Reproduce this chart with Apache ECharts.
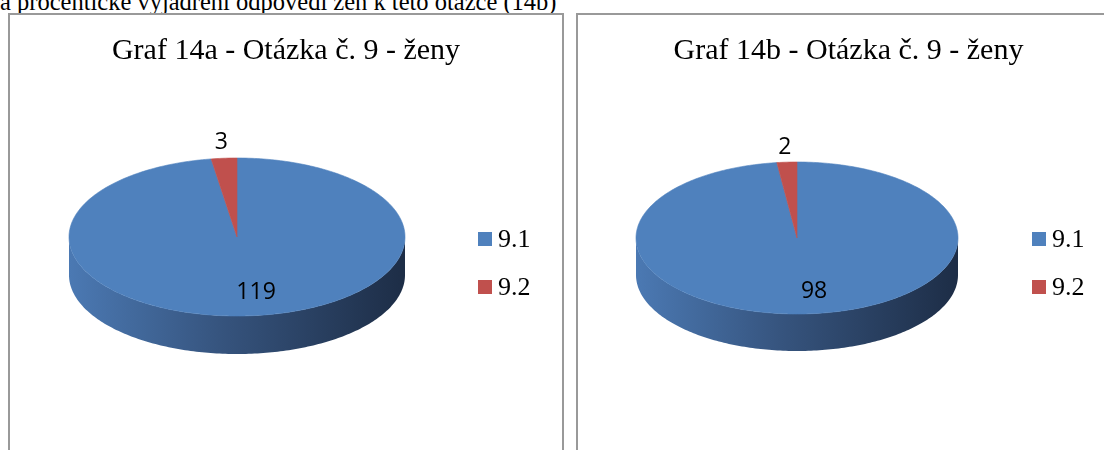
<!DOCTYPE html>
<html><head><meta charset="utf-8">
<script src="https://cdn.jsdelivr.net/npm/echarts@6/dist/echarts.min.js"></script>
<style>
html,body{margin:0;padding:0;background:#fff;width:1104px;height:450px;overflow:hidden;position:relative;}
#lead{position:absolute;left:0;top:-11px;font:24.5px/25px "Liberation Serif","Times New Roman",serif;white-space:nowrap;color:#000;}
.panel{position:absolute;top:13px;height:470px;background:#fff;border:2px solid #999;box-sizing:border-box;}
.panel .chart{position:absolute;left:0;top:0;width:100%;height:100%;}
.legend-label{position:absolute;font:26px/26px "Liberation Serif","Times New Roman",serif;color:#000;white-space:nowrap;}
#panelA{left:8px;width:556px;}
#panelB{left:576px;width:545px;}
</style></head><body>
<div id="lead">a procentické vyjádření odpovědí žen k této otázce (14b)</div>
<div id="panelA" class="panel"><div id="chartA" class="chart"></div></div>
<div id="panelB" class="panel"><div id="chartB" class="chart"></div></div>
<script>
// answer categories and counts for question 9 (women)
const categories = ['9.1', '9.2'];
const valuesA = [119, 3];
const valuesB = [98, 2];
const titleA = 'Graf 14a - Otázka č. 9 - ženy';
const titleB = 'Graf 14b - Otázka č. 9 - ženy';
const colors = ['#4F81BD', '#C0504D'];

const SERIF = 'Liberation Serif';
const SANS = 'Open Sans';
const RAD = Math.PI / 180;

// point on the tilted disc, angle clockwise from 12 o'clock
function pt(g, deg, dy, k) {
  k = k || 1;
  return [g.cx + g.rx * k * Math.sin(deg * RAD), g.cy - g.ry * k * Math.cos(deg * RAD) + (dy || 0)];
}
function arc(g, a0, a1, dy) {
  const pts = [];
  const n = Math.max(2, Math.ceil((a1 - a0) / 1));
  for (let i = 0; i <= n; i++) pts.push(pt(g, a0 + (a1 - a0) * i / n, dy));
  return pts;
}

function buildSlice(value, idx, a0, a1, frac, g, color) {
  const children = [];
  // visible side wall: front half of the disc (90..270 deg)
  const s = Math.max(a0, 90), e = Math.min(a1, 270);
  if (e > s) {
    const top = arc(g, s, e, 0);
    const bottom = arc(g, s, e, g.depth).reverse();
    const dark = color === colors[0]
      ? [{offset: 0, color: '#4b79b3'}, {offset: 0.45, color: '#36547e'}, {offset: 1, color: '#1d2d46'}]
      : [{offset: 0, color: '#a8433f'}, {offset: 1, color: '#5e2220'}];
    children.push({
      type: 'polygon', z2: 1,
      shape: {points: top.concat(bottom)},
      style: {fill: new echarts.graphic.LinearGradient(g.cx - g.rx, 0, g.cx + g.rx, 0, dark, true), stroke: null}
    });
  }
  // top face
  children.push({
    type: 'polygon', z2: 10,
    shape: {points: [[g.cx, g.cy]].concat(arc(g, a0, a1, 0))},
    style: {fill: color, stroke: color, lineWidth: 0.6}
  });
  // value label: inside for large slices, outside for thin ones
  const mid = (a0 + a1) / 2;
  const p = frac > 0.25 ? pt(g, mid, 0, g.inK) : pt(g, mid, 0, g.outK);
  children.push({
    type: 'text', z2: 20,
    style: {
      text: String(value), x: p[0] + (frac > 0.25 ? g.inDx : 0), y: p[1],
      align: 'center', verticalAlign: 'middle',
      textAlign: 'center', textVerticalAlign: 'middle',
      fontSize: 23, fontFamily: SANS, fontWeight: 'normal', fill: '#000'
    }
  });
  // legend swatch for this category
  const ly = g.legY + idx * g.legGap;
  children.push({
    type: 'rect', z2: 20,
    shape: {x: g.legX, y: ly - 7, width: 14, height: 14},
    style: {fill: color}
  });
  return {type: 'group', children};
}

function makeSeries(values, g) {
  const total = values.reduce((a, b) => a + b, 0);
  let acc = 0;
  return values.map((v, i) => {
    const a0 = acc / total * 360; acc += v; const a1 = acc / total * 360;
    return {
      type: 'custom', name: categories[i], coordinateSystem: 'none',
      silent: true, animation: false,
      itemStyle: {color: colors[i]},
      data: [[v]],
      renderItem: (params, api) => buildSlice(api.value(0), i, a0, a1, v / total, g, colors[i])
    };
  });
}

function makeOption(title, values, g) {
  return {
    animation: false,
    title: {
      text: title, left: 'center', top: 16,
      textStyle: {fontFamily: SERIF, fontSize: 30, fontWeight: 'normal', color: '#000'}
    },
    series: makeSeries(values, g)
  };
}

// legend captions next to the swatches, as page text
function addLegendLabels(panelId, g) {
  const panel = document.getElementById(panelId);
  categories.forEach((name, i) => {
    const el = document.createElement('div');
    el.className = 'legend-label';
    el.textContent = name;
    el.style.left = (g.legX + 20) + 'px';
    el.style.top = (g.legY + i * g.legGap - 13) + 'px';
    panel.appendChild(el);
  });
}

const geoA = {cx: 227, cy: 222, rx: 168, ry: 79, depth: 38, inK: 0.7, outK: 1.2, inDx: 10, legX: 468, legY: 224, legGap: 48};
const geoB = {cx: 219, cy: 223, rx: 161, ry: 76, depth: 37, inK: 0.7, outK: 1.2, inDx: 10, legX: 454, legY: 224, legGap: 48};

echarts.init(document.getElementById('chartA')).setOption(makeOption(titleA, valuesA, geoA));
echarts.init(document.getElementById('chartB')).setOption(makeOption(titleB, valuesB, geoB));
addLegendLabels('panelA', geoA);
addLegendLabels('panelB', geoB);
</script>
</body></html>
